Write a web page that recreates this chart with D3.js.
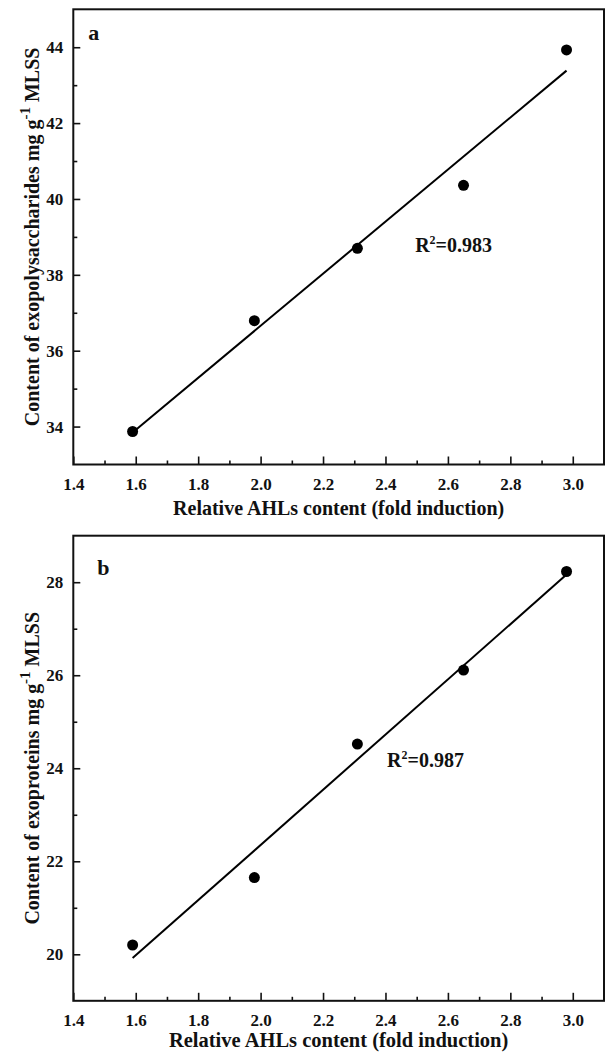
<!DOCTYPE html>
<html>
<head>
<meta charset="utf-8">
<script src="https://cdn.jsdelivr.net/npm/d3@7"></script>
<style>
  html, body { margin: 0; padding: 0; background: #fff; }
  svg text { font-family: 'Liberation Serif', 'Times New Roman', serif; font-weight: bold; fill: #111; }
</style>
</head>
<body>
<svg id="chart" width="607" height="1053"></svg>
<script>
const ahls = [1.59, 1.98, 2.31, 2.65, 2.98]
const polysaccharides = [33.87, 36.79, 38.70, 40.36, 43.93]
const proteins = [20.20, 21.65, 24.52, 26.11, 28.23]

// axes
const xTicks = [1.4, 1.6, 1.8, 2.0, 2.2, 2.4, 2.6, 2.8, 3.0]
const xMinor = [1.5, 1.7, 1.9, 2.1, 2.3, 2.5, 2.7, 2.9]
const yTicksA = [34, 36, 38, 40, 42, 44]
const yMinorA = [35, 37, 39, 41, 43]
const yTicksB = [20, 22, 24, 26, 28]
const yMinorB = [21, 23, 25, 27]

// labels
const panelLetters = ['a', 'b']
const r2Labels = ['0.983', '0.987']
const r2Anchor = [[2.495, 38.61], [2.405, 24.02]]
const yTitles = ['Content of exopolysaccharides mg g', 'Content of exoproteins mg g']
const xTitle = 'Relative AHLs content (fold induction)'

const svg = d3.select('#chart')
const serif = "'Liberation Serif', 'Times New Roman', serif"

const panels = [
    { y: polysaccharides, domain: [33, 45], top: 9.3, bottom: 464.5, ticks: yTicksA, minor: yMinorA, titleY: 515, titleSize: 20 },
    { y: proteins, domain: [19, 29], top: 535.7, bottom: 1000.8, ticks: yTicksB, minor: yMinorB, titleY: 1046.5, titleSize: 20.5 }
]

const left = 73.3
const right = 604

// 最小二乘拟合
function fit(xs, ys) {
    const mx = d3.mean(xs)
    const my = d3.mean(ys)
    let sxy = 0
    let sxx = 0
    xs.forEach((x, i) => {
        sxy += (x - mx) * (ys[i] - my)
        sxx += (x - mx) * (x - mx)
    })
    const slope = sxy / sxx
    return (x) => my + slope * (x - mx)
}

// 刻度文字样式
function styleTicks(sel) {
    sel.select('.domain').remove()
    sel.attr('font-family', serif).attr('font-size', 17)
    sel.selectAll('line').attr('stroke', '#111').attr('stroke-width', 1.6)
    sel.selectAll('text')
        .attr('font-family', serif)
        .attr('font-weight', 'bold')
        .attr('font-size', 17)
        .attr('fill', '#111')
}

panels.forEach((p, k) => {
    const x = d3.scaleLinear().domain([1.4, 3.1]).range([left, right])
    const y = d3.scaleLinear().domain(p.domain).range([p.bottom, p.top])
    const g = svg.append('g')

    // x axis, ticks inward
    g.append('g')
        .attr('transform', `translate(0,${p.bottom})`)
        .call(d3.axisBottom(x).tickValues(xTicks).tickFormat(d3.format('.1f')).tickSizeInner(-8).tickSizeOuter(0).tickPadding(13))
        .call(styleTicks)

    g.append('g')
        .attr('transform', `translate(0,${p.bottom})`)
        .call(d3.axisBottom(x).tickValues(xMinor).tickFormat('').tickSizeInner(-4).tickSizeOuter(0))
        .call(styleTicks)

    // y axis
    g.append('g')
        .attr('transform', `translate(${left},0)`)
        .call(d3.axisLeft(y).tickValues(p.ticks).tickSizeInner(-7).tickSizeOuter(0).tickPadding(10))
        .call(styleTicks)

    g.append('g')
        .attr('transform', `translate(${left},0)`)
        .call(d3.axisLeft(y).tickValues(p.minor).tickFormat('').tickSizeInner(-4).tickSizeOuter(0))
        .call(styleTicks)

    // frame
    g.append('rect')
        .attr('x', left)
        .attr('y', p.top)
        .attr('width', right - left)
        .attr('height', p.bottom - p.top)
        .attr('fill', 'none')
        .attr('stroke', '#111')
        .attr('stroke-width', 2)

    // fitted line
    const f = fit(ahls, p.y)
    const ext = d3.extent(ahls)
    g.append('path')
        .attr('d', d3.line()(ext.map((v) => [x(v), y(f(v))])))
        .attr('stroke', '#000')
        .attr('stroke-width', 2)
        .attr('fill', 'none')

    // points
    g.selectAll('circle')
        .data(ahls)
        .join('circle')
        .attr('cx', (d) => x(d))
        .attr('cy', (d, i) => y(p.y[i]))
        .attr('r', 5.5)
        .attr('fill', '#000')

    // R^2
    const r2 = g.append('text')
        .attr('x', x(r2Anchor[k][0]))
        .attr('y', y(r2Anchor[k][1]))
        .attr('font-size', 20)
    r2.append('tspan').text('R')
    r2.append('tspan').text('2').attr('font-size', 12).attr('dy', -8)
    r2.append('tspan').text('=' + r2Labels[k]).attr('dy', 8)

    // panel letter
    g.append('text')
        .attr('x', left + (k === 0 ? 15 : 24))
        .attr('y', p.top + (k === 0 ? 31 : 39))
        .attr('font-size', 22)
        .text(panelLetters[k])

    // x title
    g.append('text')
        .attr('x', (left + right) / 2)
        .attr('y', p.titleY)
        .attr('text-anchor', 'middle')
        .attr('font-size', p.titleSize)
        .text(xTitle)

    // y title (rotated)
    const yt = g.append('text')
        .attr('transform', `translate(39,${(p.top + p.bottom) / 2}) rotate(-90)`)
        .attr('text-anchor', 'middle')
        .attr('font-size', 20)
    yt.append('tspan').text(yTitles[k])
    yt.append('tspan').text('-1').attr('font-size', 15).attr('dy', -9)
    yt.append('tspan').text(' MLSS').attr('dy', 9)
})
</script>
</body>
</html>
